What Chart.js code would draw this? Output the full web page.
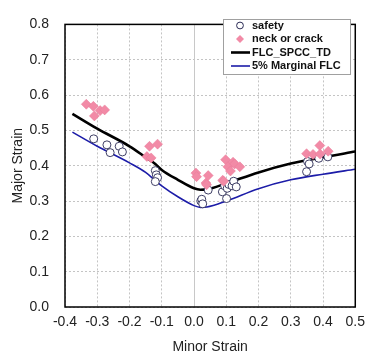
<!DOCTYPE html>
<html>
<head>
<meta charset="utf-8">
<script src="https://cdn.jsdelivr.net/npm/chart.js@4.4.0/dist/chart.umd.min.js"></script>
<style>
  html, body { margin: 0; padding: 0; background: #fff; }
  #wrap { width: 372px; height: 359px; }
</style>
</head>
<body>
<div id="wrap"><canvas id="flc_chart" width="372" height="359"></canvas></div>
<script>
// tick labels
var xTickLabels = ['-0.4', '-0.3', '-0.2', '-0.1', '0.0', '0.1', '0.2', '0.3', '0.4', '0.5'];
var yTickLabels = ['0.0', '0.1', '0.2', '0.3', '0.4', '0.5', '0.6', '0.7', '0.8'];

// FLC_SPCC_TD curve
var flcMinor = [-0.377, -0.3, -0.2, -0.15, -0.12, -0.1, -0.05, 0.0, 0.02, 0.04, 0.1, 0.2, 0.3, 0.4, 0.5];
var flcMajor = [0.547, 0.505, 0.455, 0.424, 0.405, 0.388, 0.360, 0.336, 0.332, 0.333, 0.350, 0.381, 0.406, 0.424, 0.440];

// 5% Marginal FLC
var marginMinor = [-0.377, -0.3, -0.2, -0.15, -0.12, -0.1, -0.05, 0.0, 0.02, 0.04, 0.1, 0.2, 0.3, 0.4, 0.5];
var marginMajor = [0.495, 0.455, 0.408, 0.381, 0.358, 0.343, 0.312, 0.287, 0.282, 0.283, 0.300, 0.335, 0.360, 0.376, 0.390];

// safety points
var safetyMinor = [-0.311, -0.270, -0.260, -0.232, -0.222, -0.120, -0.117, -0.113, -0.120,
                   0.021, 0.024, 0.027, 0.044, 0.088, 0.095, 0.101, 0.103, 0.108, 0.118, 0.123, 0.131,
                   0.349, 0.352, 0.357, 0.387, 0.415];
var safetyMajor = [0.476, 0.459, 0.437, 0.455, 0.439, 0.386, 0.374, 0.366, 0.355,
                   0.300, 0.305, 0.292, 0.331, 0.326, 0.343, 0.307, 0.336, 0.347, 0.343, 0.356, 0.340,
                   0.383, 0.412, 0.405, 0.421, 0.425];

// neck or crack points
var crackMinor = [-0.334, -0.312, -0.309, -0.291, -0.277, -0.146, -0.138, -0.133, -0.113,
                  0.006, 0.008, 0.037, 0.039, 0.044, 0.089, 0.092, 0.098, 0.105, 0.113, 0.121, 0.126, 0.142,
                  0.349, 0.369, 0.390, 0.391, 0.416];
var crackMajor = [0.574, 0.568, 0.541, 0.556, 0.558, 0.426, 0.455, 0.422, 0.461,
                  0.379, 0.369, 0.351, 0.346, 0.372, 0.359, 0.356, 0.417, 0.397, 0.385, 0.410, 0.405, 0.397,
                  0.434, 0.432, 0.457, 0.433, 0.441];

function pairs(xs, ys) {
    return xs.map(function (x, i) { return { x: x, y: ys[i] }; });
}

var FONT = "'Liberation Sans', Arial, sans-serif";

// frame, solid zero line and legend box
var framePlugin = {
    id: 'frame',
    beforeDatasetsDraw: function (chart) {
        var ctx = chart.ctx, a = chart.chartArea;
        var x0 = chart.scales.x.getPixelForValue(0);
        ctx.save();
        ctx.strokeStyle = '#c8c8c8';
        ctx.lineWidth = 1;
        ctx.beginPath();
        ctx.moveTo(Math.round(x0) + 0.5, a.top);
        ctx.lineTo(Math.round(x0) + 0.5, a.bottom);
        ctx.stroke();
        ctx.restore();
    },
    afterDraw: function (chart) {
        var ctx = chart.ctx, a = chart.chartArea;
        ctx.save();
        ctx.strokeStyle = '#000';
        ctx.lineWidth = 1.5;
        ctx.strokeRect(a.left, a.top, a.right - a.left, a.bottom - a.top);

        // legend
        var bx = 223, by = 19, bw = 127, bh = 55;
        ctx.fillStyle = '#fff';
        ctx.fillRect(bx, by, bw, bh);
        ctx.strokeStyle = '#a0a0a0';
        ctx.lineWidth = 1;
        ctx.strokeRect(bx + 0.5, by + 0.5, bw, bh);

        ctx.font = 'bold 11px ' + FONT;
        ctx.textBaseline = 'middle';
        ctx.textAlign = 'left';
        var rows = [25.5, 39, 52.5, 66];
        chart.data.datasets.forEach(function (ds, i) {
            var y = rows[i];
            if (ds.showLine) {
                ctx.strokeStyle = ds.borderColor;
                ctx.lineWidth = ds.borderWidth;
                ctx.beginPath();
                ctx.moveTo(231, y);
                ctx.lineTo(250, y);
                ctx.stroke();
            } else if (ds.pointStyle === 'circle') {
                ctx.fillStyle = ds.pointBackgroundColor;
                ctx.strokeStyle = ds.pointBorderColor;
                ctx.lineWidth = 1;
                ctx.beginPath();
                ctx.arc(240, y, 3.4, 0, Math.PI * 2);
                ctx.fill();
                ctx.stroke();
            } else {
                ctx.fillStyle = ds.pointBackgroundColor;
                ctx.beginPath();
                ctx.moveTo(240, y - 4);
                ctx.lineTo(244, y);
                ctx.lineTo(240, y + 4);
                ctx.lineTo(236, y);
                ctx.closePath();
                ctx.fill();
            }
            ctx.fillStyle = '#111';
            ctx.fillText(ds.label, 252, y);
        });
        ctx.restore();
    }
};

var dt = {
    datasets: [
    {
        label: 'safety',
        data: pairs(safetyMinor, safetyMajor),
        pointStyle: 'circle',
        pointRadius: 4,
        pointBackgroundColor: '#ffffff',
        pointBorderColor: '#2a2a55',
        pointBorderWidth: 0.9,
        showLine: false,
        order: 2
    },
    {
        label: 'neck or crack',
        data: pairs(crackMinor, crackMajor),
        pointStyle: 'rectRot',
        pointRadius: 5,
        pointBackgroundColor: '#f28aa6',
        pointBorderColor: '#e87b99',
        pointBorderWidth: 0.5,
        showLine: false,
        order: 1
    },
    {
        label: 'FLC_SPCC_TD',
        data: pairs(flcMinor, flcMajor),
        showLine: true,
        borderColor: '#000000',
        borderWidth: 2.6,
        pointRadius: 0,
        cubicInterpolationMode: 'monotone',
        order: 3
    },
    {
        label: '5% Marginal FLC',
        data: pairs(marginMinor, marginMajor),
        showLine: true,
        borderColor: '#1c1ca8',
        borderWidth: 1.6,
        pointRadius: 0,
        cubicInterpolationMode: 'monotone',
        order: 4
    }
    ]
};

var config_flc = {
    type: 'scatter',
    data: dt,
    plugins: [framePlugin],
    options: {
        responsive: false,
        animation: false,
        layout: { padding: { left: 0, right: 12, top: 10, bottom: 0 } },
        plugins: { legend: { display: false }, tooltip: { enabled: false } },
        scales: {
            x: {
                type: 'linear',
                min: -0.4,
                max: 0.5,
                afterFit: function (s) { s.height = 52; },
                afterBuildTicks: function (s) {
                    s.ticks = xTickLabels.map(function (t) { return { value: parseFloat(t) }; });
                },
                ticks: {
                    padding: 7,
                    color: '#222',
                    font: { family: FONT, size: 14 },
                    maxRotation: 0,
                    autoSkip: false,
                    callback: function (v, i) { return xTickLabels[i]; }
                },
                grid: {
                    drawTicks: false,
                    color: function (c) {
                        if (c.tick && Math.abs(c.tick.value) < 1e-9) return 'rgba(0,0,0,0)';
                        return '#c4c4c4';
                    },
                    lineWidth: 1,
                    borderDash: [2, 2]
                },
                border: { display: false, dash: [2, 2] },
                title: {
                    display: true,
                    text: 'Minor Strain',
                    color: '#222',
                    font: { family: FONT, size: 14 },
                    padding: { top: 0, bottom: 3 }
                }
            },
            y: {
                type: 'linear',
                min: 0,
                max: 0.8,
                afterFit: function (s) { s.width = 65; },
                afterBuildTicks: function (s) {
                    s.ticks = yTickLabels.map(function (t) { return { value: parseFloat(t) }; });
                },
                ticks: {
                    padding: 16,
                    color: '#222',
                    font: { family: FONT, size: 14 },
                    autoSkip: false,
                    callback: function (v, i) { return yTickLabels[i]; }
                },
                grid: { drawTicks: false, color: '#c4c4c4', lineWidth: 1, borderDash: [2, 2] },
                border: { display: false, dash: [2, 2] },
                title: {
                    display: true,
                    text: 'Major Strain',
                    color: '#222',
                    font: { family: FONT, size: 14 },
                    padding: { top: 10, bottom: 0 }
                }
            }
        }
    }
};

var flc_chart = new Chart(
    document.getElementById('flc_chart'),
    config_flc
);
</script>
</body>
</html>
